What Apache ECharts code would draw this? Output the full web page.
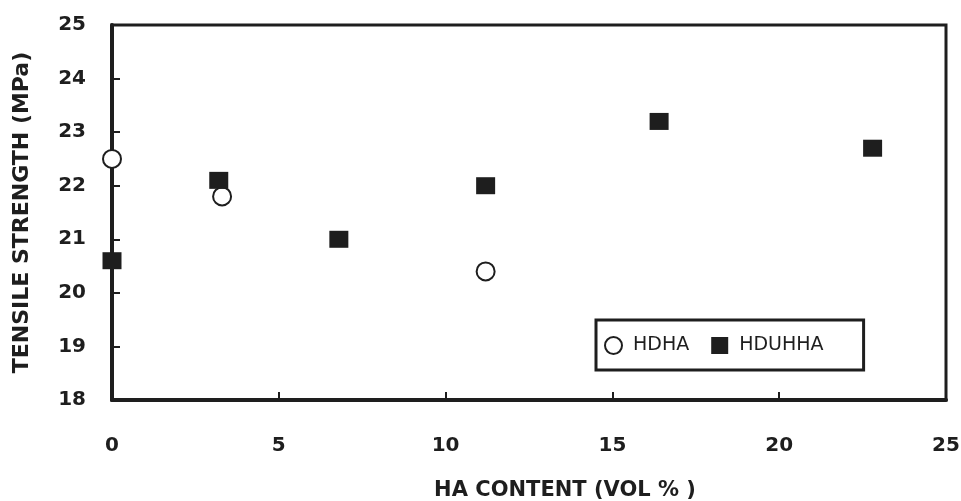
<!DOCTYPE html>
<html>
<head>
<meta charset="utf-8">
<script src="https://cdn.jsdelivr.net/npm/echarts@6/dist/echarts.min.js"></script>
<style>html,body{margin:0;padding:0;background:#fff;}#c{width:961px;height:501px;}</style>
</head>
<body>
<div id="c"></div>
<script>
const seriesNames = ['HDHA', 'HDUHHA'];
const hdhaX = [0, 3.3, 11.2];
const hdhaY = [22.5, 21.8, 20.4];
const hduhhaX = [0, 3.2, 6.8, 11.2, 16.4, 22.8];
const hduhhaY = [20.6, 22.1, 21.0, 22.0, 23.2, 22.7];
const xTitle = 'HA CONTENT (VOL % )';
const yTitle = 'TENSILE STRENGTH (MPa)';

const ink = '#1e1e1e';
const chart = echarts.init(document.getElementById('c'), null, {renderer: 'canvas'});
chart.setOption({
  backgroundColor: '#fff',
  animation: false,
  grid: {left: 112, right: 15, top: 25, bottom: 101, show: true, borderColor: ink, borderWidth: 3,
         backgroundColor: 'transparent', containLabel: false, outerBoundsMode: 'none'},
  xAxis: {
    type: 'value', min: 0, max: 25, interval: 5,
    axisLine: {lineStyle: {color: ink, width: 4}},
    axisTick: {inside: true, length: 8, lineStyle: {color: ink, width: 2}},
    splitLine: {show: false},
    axisLabel: {margin: 36, color: ink, fontFamily: 'DejaVu Sans', fontWeight: 'bold', fontSize: 20},
    name: xTitle, nameLocation: 'middle', nameGap: 80,
    nameTextStyle: {color: ink, fontFamily: 'DejaVu Sans', fontWeight: 'bold', fontSize: 21, padding: [0, 0, 0, 72]}
  },
  yAxis: {
    type: 'value', min: 18, max: 25, interval: 1,
    axisLine: {lineStyle: {color: ink, width: 4}},
    axisTick: {inside: true, length: 8, lineStyle: {color: ink, width: 2}},
    splitLine: {show: false},
    axisLabel: {margin: 26, color: ink, fontFamily: 'DejaVu Sans', fontWeight: 'bold', fontSize: 20},
    name: yTitle, nameLocation: 'middle', nameGap: 79, nameRotate: 90,
    nameTextStyle: {color: ink, fontFamily: 'DejaVu Sans', fontWeight: 'bold', fontSize: 22}
  },
  legend: {
    data: seriesNames,
    left: 596, top: 320,
    orient: 'horizontal',
    backgroundColor: '#fff',
    borderColor: ink, borderWidth: 3,
    padding: [16, 40, 15, 8],
    itemGap: 22,
    itemWidth: 17, itemHeight: 17,
    textStyle: {color: ink, fontFamily: 'DejaVu Sans', fontSize: 19, padding: [0, 0, 0, 6]}
  },
  series: [
    {
      name: seriesNames[0], type: 'scatter', symbol: 'circle', symbolSize: 18,
      itemStyle: {color: '#fff', borderColor: ink, borderWidth: 2, opacity: 1},
      data: hdhaX.map((x, i) => [x, hdhaY[i]]), z: 3
    },
    {
      name: seriesNames[1], type: 'scatter', symbol: 'rect', symbolSize: [19, 17],
      itemStyle: {color: ink, opacity: 1},
      data: hduhhaX.map((x, i) => [x, hduhhaY[i]]), z: 4
    }
  ]
});
</script>
</body>
</html>
